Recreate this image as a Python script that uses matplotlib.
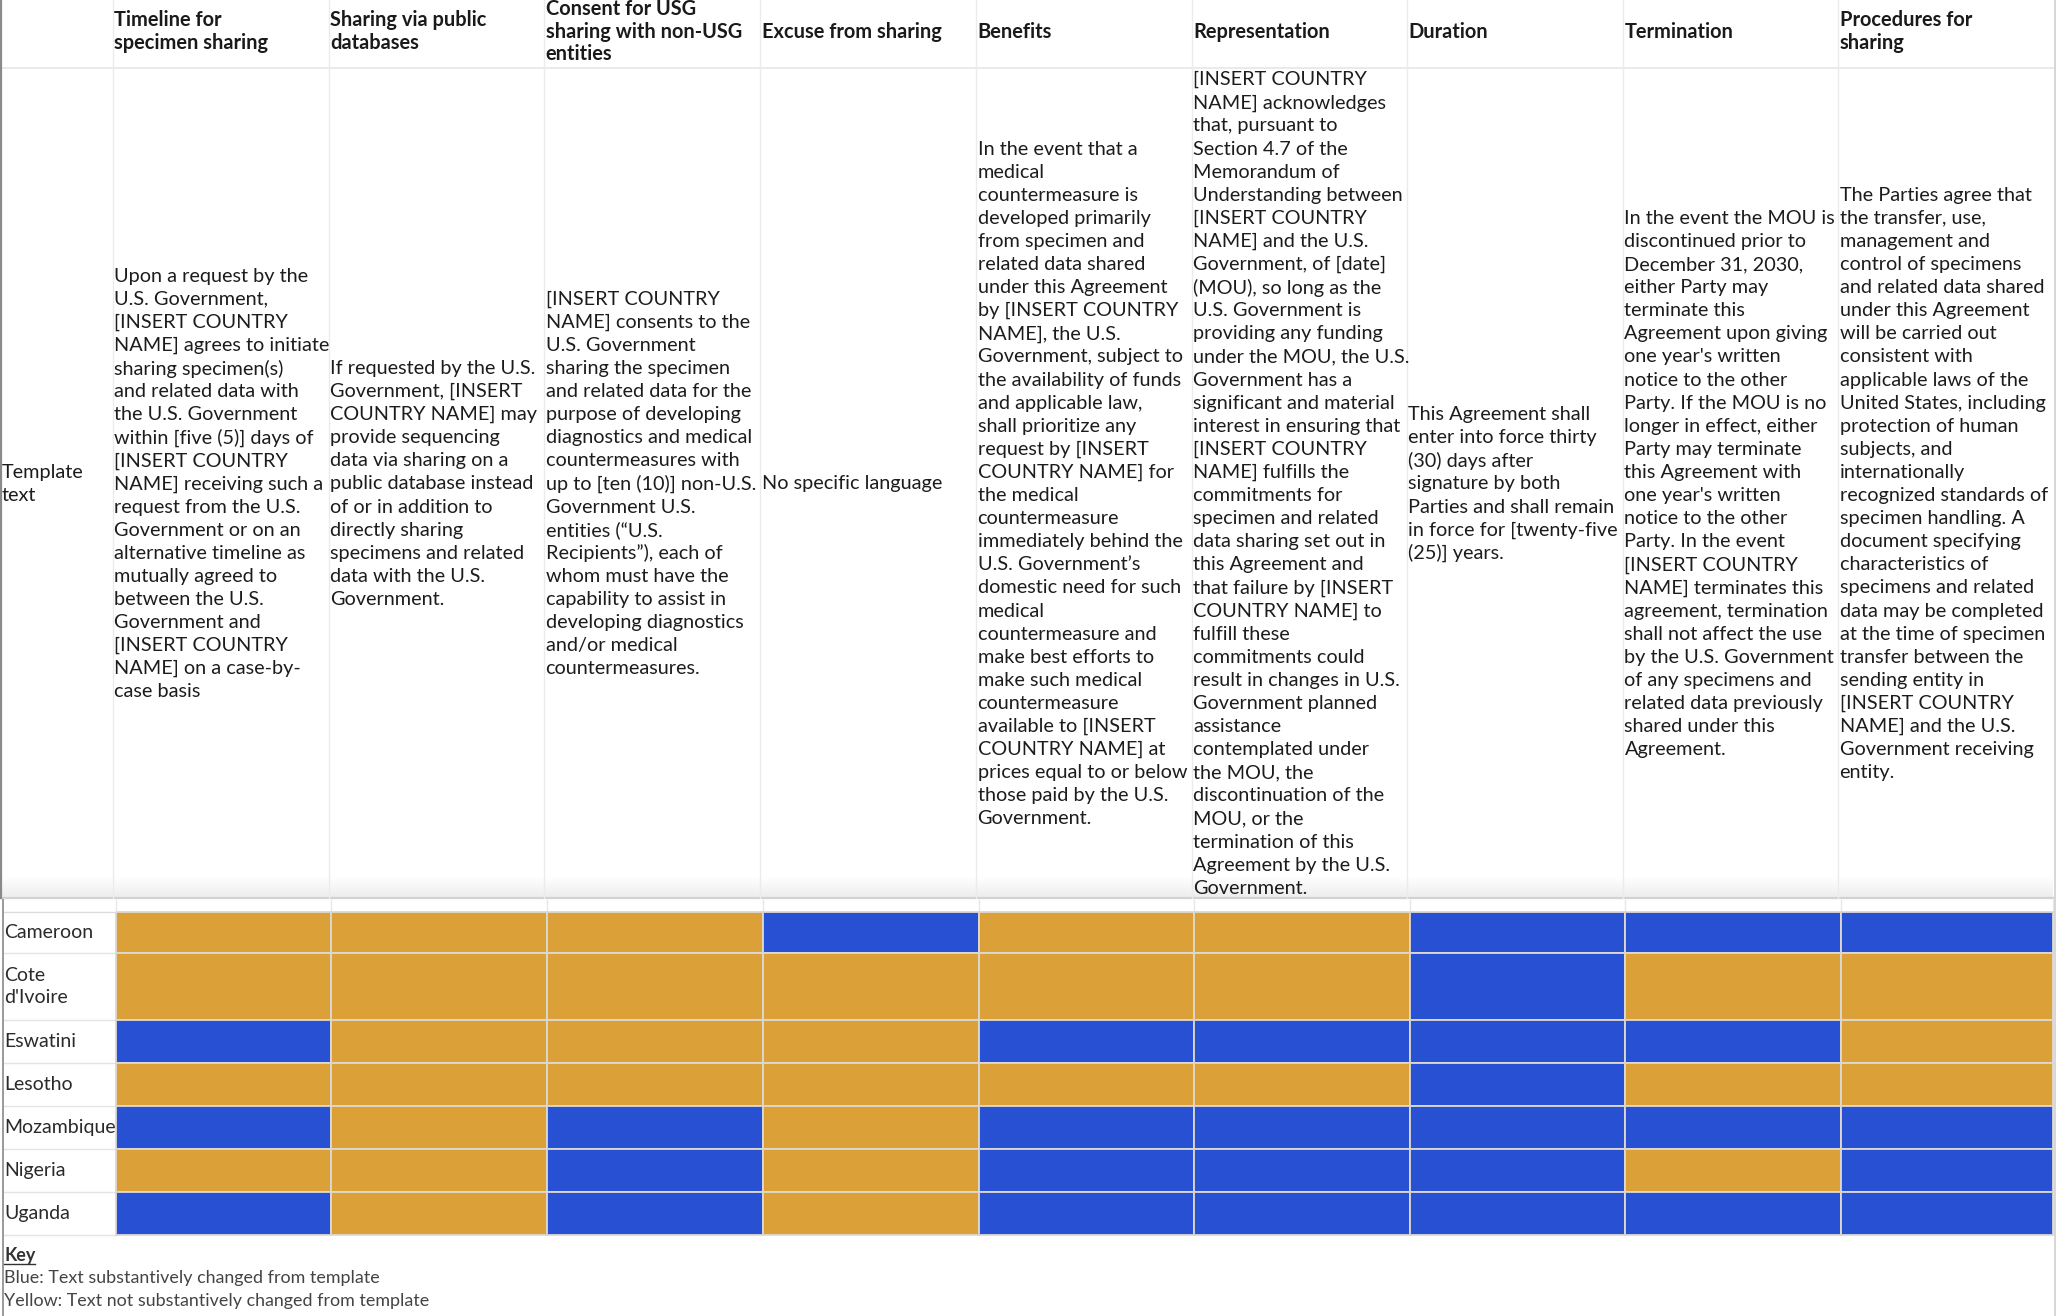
import matplotlib
matplotlib.use("Agg")
import matplotlib.pyplot as plt
import numpy as np
from matplotlib.colors import ListedColormap

# ---------------- data ----------------
columns = [
    "Timeline for\nspecimen sharing",
    "Sharing via public\ndatabases",
    "Consent for USG\nsharing with non-USG\nentities",
    "Excuse from sharing",
    "Benefits",
    "Representation",
    "Duration",
    "Termination",
    "Procedures for\nsharing",
]

row_label = "Template\ntext"

text_timeline = [
    "Upon a request by the", "U.S. Government,", "[INSERT COUNTRY",
    "NAME] agrees to initiate", "sharing specimen(s)", "and related data with",
    "the U.S. Government", "within [five (5)] days of", "[INSERT COUNTRY",
    "NAME] receiving such a", "request from the U.S.", "Government or on an",
    "alternative timeline as", "mutually agreed to", "between the U.S.",
    "Government and", "[INSERT COUNTRY", "NAME] on a case-by-", "case basis",
]
text_public = [
    "If requested by the U.S.", "Government, [INSERT", "COUNTRY NAME] may",
    "provide sequencing", "data via sharing on a", "public database instead",
    "of or in addition to", "directly sharing", "specimens and related",
    "data with the U.S.", "Government.",
]
text_consent = [
    "[INSERT COUNTRY", "NAME] consents to the", "U.S. Government",
    "sharing the specimen", "and related data for the", "purpose of developing",
    "diagnostics and medical", "countermeasures with", "up to [ten (10)] non-U.S.",
    "Government U.S.", "entities (\u201cU.S.", "Recipients\u201d), each of",
    "whom must have the", "capability to assist in", "developing diagnostics",
    "and/or medical", "countermeasures.",
]
text_excuse = ["No specific language"]
text_benefits = [
    "In the event that a", "medical", "countermeasure is", "developed primarily",
    "from specimen and", "related data shared", "under this Agreement",
    "by [INSERT COUNTRY", "NAME], the U.S.", "Government, subject to",
    "the availability of funds", "and applicable law,", "shall prioritize any",
    "request by [INSERT", "COUNTRY NAME] for", "the medical", "countermeasure",
    "immediately behind the", "U.S. Government\u2019s", "domestic need for such",
    "medical", "countermeasure and", "make best efforts to", "make such medical",
    "countermeasure", "available to [INSERT", "COUNTRY NAME] at",
    "prices equal to or below", "those paid by the U.S.", "Government.",
]
text_representation = [
    "[INSERT COUNTRY", "NAME] acknowledges", "that, pursuant to",
    "Section 4.7 of the", "Memorandum of", "Understanding between",
    "[INSERT COUNTRY", "NAME] and the U.S.", "Government, of [date]",
    "(MOU), so long as the", "U.S. Government is", "providing any funding",
    "under the MOU, the U.S.", "Government has a", "significant and material",
    "interest in ensuring that", "[INSERT COUNTRY", "NAME] fulfills the",
    "commitments for", "specimen and related", "data sharing set out in",
    "this Agreement and", "that failure by [INSERT", "COUNTRY NAME] to",
    "fulfill these", "commitments could", "result in changes in U.S.",
    "Government planned", "assistance", "contemplated under", "the MOU, the",
    "discontinuation of the", "MOU, or the", "termination of this",
    "Agreement by the U.S.", "Government.",
]
text_duration = [
    "This Agreement shall", "enter into force thirty", "(30) days after",
    "signature by both", "Parties and shall remain", "in force for [twenty-five",
    "(25)] years.",
]
text_termination = [
    "In the event the MOU is", "discontinued prior to", "December 31, 2030,",
    "either Party may", "terminate this", "Agreement upon giving",
    "one year's written", "notice to the other", "Party. If the MOU is no",
    "longer in effect, either", "Party may terminate", "this Agreement with",
    "one year's written", "notice to the other", "Party. In the event",
    "[INSERT COUNTRY", "NAME] terminates this", "agreement, termination",
    "shall not affect the use", "by the U.S. Government", "of any specimens and",
    "related data previously", "shared under this", "Agreement.",
]
text_procedures = [
    "The Parties agree that", "the transfer, use,", "management and",
    "control of specimens", "and related data shared", "under this Agreement",
    "will be carried out", "consistent with", "applicable laws of the",
    "United States, including", "protection of human", "subjects, and",
    "internationally", "recognized standards of", "specimen handling. A",
    "document specifying", "characteristics of", "specimens and related",
    "data may be completed", "at the time of specimen", "transfer between the",
    "sending entity in", "[INSERT COUNTRY", "NAME] and the U.S.",
    "Government receiving", "entity.",
]
template_texts = [text_timeline, text_public, text_consent, text_excuse,
                  text_benefits, text_representation, text_duration,
                  text_termination, text_procedures]

countries = ["Cameroon", "Cote\nd'Ivoire", "Eswatini", "Lesotho",
             "Mozambique", "Nigeria", "Uganda"]
# 1 = Blue (changed), 0 = Yellow (not changed)
cameroon   = [0, 0, 0, 1, 0, 0, 1, 1, 1]
cote       = [0, 0, 0, 0, 0, 0, 1, 0, 0]
eswatini   = [1, 0, 0, 0, 1, 1, 1, 1, 0]
lesotho    = [0, 0, 0, 0, 0, 0, 1, 0, 0]
mozambique = [1, 0, 1, 0, 1, 1, 1, 1, 1]
nigeria    = [0, 0, 1, 0, 1, 1, 1, 0, 1]
uganda     = [1, 0, 1, 0, 1, 1, 1, 1, 1]

key_title = "Key"
key_lines = ["Blue: Text substantively changed from template",
             "Yellow: Text not substantively changed from template"]

# ---------------- style / layout ----------------
W, H = 2056, 1316
YELLOW = "#DBA037"
BLUE = "#2751D2"
FONT = "Lato"
plt.rcParams["font.family"] = [FONT, "DejaVu Sans"]

top_edges = [0, 113, 328.5, 544, 760, 976, 1191.5, 1407, 1623, 1838, 2053]
grid_x = [116, 331, 547, 763, 979, 1194, 1410, 1625, 1841, 2053]
grid_y = [912, 953, 1020, 1063, 1106, 1149, 1192, 1235]
header_bottom = 68
template_bottom = 898

fig = plt.figure(figsize=(W / 100, H / 100), dpi=100)
ax = fig.add_axes([0, 0, 1, 1])
ax.set_xlim(0, W)
ax.set_ylim(H, 0)
ax.axis("off")
renderer = fig.canvas.get_renderer()


def fit_size(sample, target_px, weight="normal"):
    t = ax.text(0, 0, sample, fontsize=10, fontweight=weight)
    w = t.get_window_extent(renderer).width
    t.remove()
    return 10 * target_px / w


body_fs = fit_size("NAME] receiving such a", 208)
head_fs = fit_size("sharing with non-USG", 196, "bold")
country_fs = fit_size("Mozambique", 112)
key_fs = fit_size(key_lines[0], 376)

# --- backgrounds and rules ---
grad = np.linspace(0, 1, 50).reshape(-1, 1)
ax.imshow(grad, extent=(0, 2053, template_bottom, 876), cmap=ListedColormap(
    [(1 - 0.07 * v, 1 - 0.07 * v, 1 - 0.07 * v) for v in np.linspace(0, 1, 64)]),
    aspect="auto", zorder=0, interpolation="bilinear")
ax.plot([0, 2053], [template_bottom, template_bottom], color="#d2d2d2", lw=1.6, zorder=1)
ax.plot([0, 2053], [header_bottom, header_bottom], color="#e6e6e6", lw=1.2, zorder=1)
for x in top_edges[1:-1]:
    ax.plot([x, x], [0, template_bottom], color="#ebebeb", lw=1.0, zorder=1)
ax.plot([0.8, 0.8], [0, template_bottom], color="#8a8a8a", lw=1.6, zorder=2)
ax.plot([2.5, 2.5], [template_bottom + 2, H], color="#9a9a9a", lw=1.4, zorder=2)
ax.plot([2054.5, 2054.5], [0, H], color="#cfcfcf", lw=1.2, zorder=2)

for x in grid_x:
    ax.plot([x, x], [template_bottom + 2, grid_y[0]], color="#e6e6e6", lw=1.0, zorder=1)
ax.plot([3, 2053], [grid_y[0] - 0.5, grid_y[0] - 0.5], color="#dcdcdc", lw=1.0, zorder=1)
for y in grid_y[1:]:
    ax.plot([3, grid_x[0]], [y, y], color="#e4e4e4", lw=1.0, zorder=1)

# --- headers ---
head_cy, head_sp = 31.5, 22.5
for i, col in enumerate(columns):
    lines = col.split("\n")
    n = len(lines)
    for j, ln in enumerate(lines):
        y = head_cy + (j - (n - 1) / 2) * head_sp
        ax.text(top_edges[i + 1] + 1.5, y, ln, fontsize=head_fs, fontweight="bold",
                color="#1a1a1a", ha="left", va="center")

# --- template row ---
body_cy, body_sp = 484, 23.1
for j, ln in enumerate(row_label.split("\n")):
    ax.text(1.5, body_cy + (j - 0.5) * body_sp, ln, fontsize=body_fs,
            color="#1c1c1c", ha="left", va="center")
for i, lines in enumerate(template_texts):
    n = len(lines)
    for j, ln in enumerate(lines):
        y = body_cy + (j - (n - 1) / 2) * body_sp
        ax.text(top_edges[i + 1] + 1.5, y, ln, fontsize=body_fs,
                color="#1c1c1c", ha="left", va="center")

# --- status grid ---
status = np.array([cameroon, cote, eswatini, lesotho, mozambique, nigeria, uganda])
cmap = ListedColormap([YELLOW, BLUE])
ax.pcolormesh(grid_x, grid_y, status, cmap=cmap, vmin=0, vmax=1,
              edgecolors=(0.87, 0.85, 0.82, 0.9), linewidth=1.3, zorder=3)

for r, name in enumerate(countries):
    cy = (grid_y[r] + grid_y[r + 1]) / 2
    lines = name.split("\n")
    n = len(lines)
    for j, ln in enumerate(lines):
        ax.text(4, cy + (j - (n - 1) / 2) * 22.5, ln, fontsize=country_fs,
                color="#2a2a2a", ha="left", va="center", zorder=4)

# --- key ---
kt = ax.text(4, 1255, key_title, fontsize=key_fs, fontweight="bold",
             color="#333333", ha="left", va="center")
bb = kt.get_window_extent(renderer)
ax.plot([4, 4 + bb.width], [1264, 1264], color="#333333", lw=1.0)
for j, ln in enumerate(key_lines):
    ax.text(4, 1278 + j * 23, ln, fontsize=key_fs, color="#444444",
            ha="left", va="center")

fig.savefig("out.png", dpi=100)
